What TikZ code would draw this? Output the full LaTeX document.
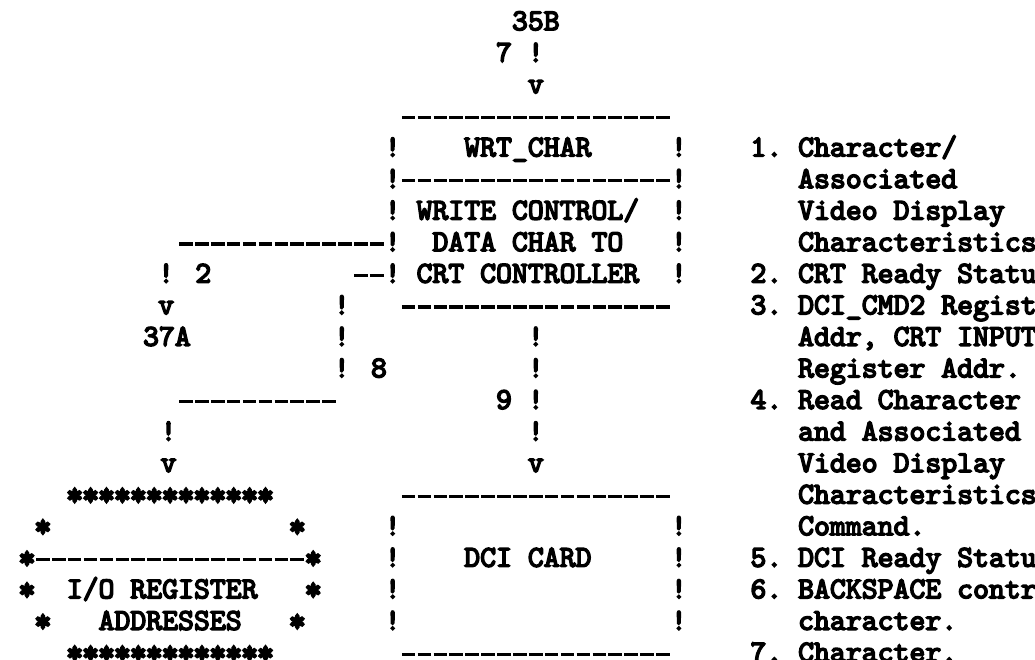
\documentclass[tikz,border=0pt]{standalone}
\usepackage{fontspec}
\newfontfamily\monob{lmmono10-regular.otf}[FakeBold=5]
\newfontfamily\monostar{lmmono10-regular.otf}[FakeBold=9]
\begin{document}
\begin{tikzpicture}[x=1pt,y=-1pt,
  txt/.style={font=\fontsize{30.29}{31.56}\selectfont\monob, inner sep=0pt, outer sep=0pt, anchor=base west},
  startxt/.style={txt, font=\fontsize{30.29}{31.56}\selectfont\monostar},
  hy/.style={line width=3.4pt, dash pattern=on 13.6pt off 2.3pt}]
\useasboundingbox (0,0) rectangle (1035,660);
\clip (0,0) rectangle (1035,660);
% helpers: left edge of column c = 19.05+15.9c ; baseline of row r = 30.2+31.56r ; hyphen y = 23+31.56r
\newcommand\T[4]{\node[txt] (#1) at ({19.05+15.9*(#2)},{30.2+31.56*(#3)}) {#4};}
\newcommand\ST[4]{\node[startxt] (#1) at ({19.05+15.9*(#2)},{31.2+31.56*(#3)}) {#4};}
\newcommand\HY[3]{\draw[hy] ({19.05+15.9*(#2)+1.1},{23+31.56*(#1)}) -- ({19.05+15.9*((#3)+1)},{23+31.56*(#1)});}
% top input
\T{n35b}{31}{0}{35B}
\T{l7}{30}{1}{7 !}
\T{v1}{32}{2}{v}
% WRT_CHAR box
\HY{3}{24}{40}
\T{b4l}{23}{4}{!}\T{wrt}{28}{4}{WRT\_CHAR}\T{b4r}{41}{4}{!}
\T{b5l}{23}{5}{!}\HY{5}{24}{40}\T{b5r}{41}{5}{!}
\T{b6l}{23}{6}{!}\T{w1}{25}{6}{WRITE CONTROL/}\T{b6r}{41}{6}{!}
\HY{7}{10}{22}
\T{b7l}{23}{7}{!}\T{w2}{26}{7}{DATA CHAR TO}\T{b7r}{41}{7}{!}
\T{l2}{8.75}{8}{! 2}
\HY{8}{21}{22}
\T{b8l}{23}{8}{!}\T{w3}{25}{8}{CRT CONTROLLER}\T{b8r}{41}{8}{!}
\T{v2}{8.75}{9}{v}
\T{p9}{19.8}{9}{!}
\HY{9}{24}{40}
\T{n37a}{7.8}{10}{37A}
\T{p10}{19.8}{10}{!}
\T{q10}{32}{10}{!}
\T{l8}{19.8}{11}{! 8}
\T{q11}{32}{11}{!}
\HY{12}{10}{19}
\T{l9}{30}{12}{9 !}
\T{p13}{8.9}{13}{!}
\T{q13}{32}{13}{!}
\T{v3}{8.9}{14}{v}
\T{v4}{32}{14}{v}
% I/O register box
\ST{s15}{3}{15}{*************}
\ST{s16a}{1}{16}{*}\ST{s16b}{17}{16}{*}
\ST{s17a}{0}{17}{*}\HY{17}{1}{17}\ST{s17b}{18}{17}{*}
\ST{s18a}{0}{18}{*}\T{io}{3}{18}{I/O REGISTER}\ST{s18b}{18}{18}{*}
\ST{s19a}{1}{19}{*}\T{addr}{5}{19}{ADDRESSES}\ST{s19b}{17}{19}{*}
\ST{s20}{3}{20}{*************}
% DCI card box
\HY{15}{24}{40}
\T{d16l}{23}{16}{!}\T{d16r}{41}{16}{!}
\T{d17l}{23}{17}{!}\T{dci}{28}{17}{DCI CARD}\T{d17r}{41}{17}{!}
\T{d18l}{23}{18}{!}\T{d18r}{41}{18}{!}
\T{d19l}{23}{19}{!}\T{d19r}{41}{19}{!}
\HY{20}{24}{40}
% legend
\T{k1}{46}{4}{1.}\T{t1}{49}{4}{Character/}
\T{t1b}{49}{5}{Associated}
\T{t1c}{49}{6}{Video Display}
\T{t1d}{49}{7}{Characteristics}
\T{k2}{46}{8}{2.}\T{t2}{49}{8}{CRT Ready Status}
\T{k3}{46}{9}{3.}\T{t3}{49}{9}{DCI\_CMD2 Register}
\T{t3b}{49}{10}{Addr, CRT INPUT}
\T{t3c}{49}{11}{Register Addr.}
\T{k4}{46}{12}{4.}\T{t4}{49}{12}{Read Character}
\T{t4b}{49}{13}{and Associated}
\T{t4c}{49}{14}{Video Display}
\T{t4d}{49}{15}{Characteristics}
\T{t4e}{49}{16}{Command.}
\T{k5}{46}{17}{5.}\T{t5}{49}{17}{DCI Ready Status}
\T{k6}{46}{18}{6.}\T{t6}{49}{18}{BACKSPACE control}
\T{t6b}{49}{19}{character.}
\T{k7}{46}{20}{7.}\T{t7}{49}{20}{Character.}
\end{tikzpicture}
\end{document}
